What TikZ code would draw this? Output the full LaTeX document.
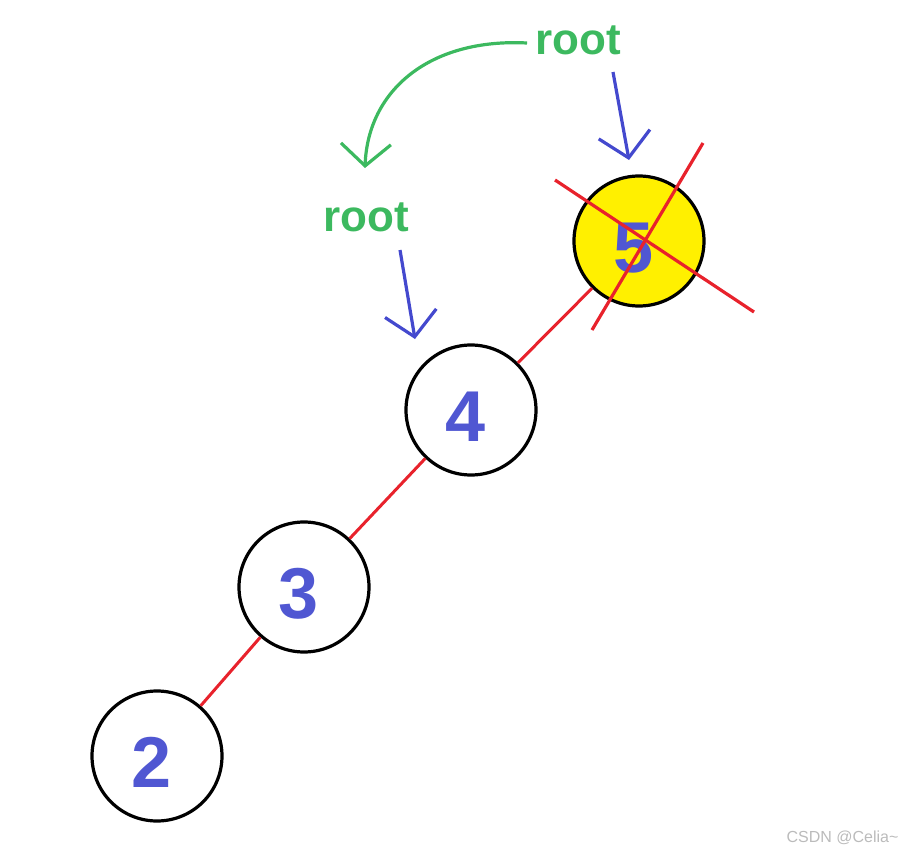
\documentclass[tikz,border=0pt]{standalone}
\usepackage{fontspec}
\setmainfont{Liberation Sans}
\usepackage{xcolor}
\usetikzlibrary{positioning, arrows.meta, calc}
\definecolor{nodeyellow}{HTML}{FFF000}
\definecolor{numblue}{HTML}{5057D2}
\definecolor{arrowblue}{HTML}{4449CE}
\definecolor{rootgreen}{HTML}{3CB95F}
\definecolor{edgered}{HTML}{E8222C}
\definecolor{markgray}{HTML}{BBBBBB}

\newcommand{\numtext}[1]{#1\kern10pt}

\tikzset{
  treenode/.style={circle, draw=black, line width=3.2pt, minimum size=130pt, inner sep=0pt,
    text=numblue, text height=62pt, text depth=0pt, font=\fontsize{72}{72}\selectfont\bfseries},
  treeedge/.style={draw=edgered, line width=3pt},
  crossline/.style={draw=edgered, line width=3.2pt},
  rootlabel/.style={text=rootgreen, font=\fontsize{44}{44}\selectfont\bfseries, inner sep=0pt},
  pointer/.style={draw=arrowblue, line width=3.2pt, -{Straight Barb[length=24pt, width=52pt, line width=3.2pt]}},
  moveptr/.style={draw=rootgreen, line width=3.2pt, -{Straight Barb[length=22pt, width=50pt, line width=3.2pt]}}
}

\begin{document}
\begin{tikzpicture}[x=1pt, y=-1pt]
  \useasboundingbox (0,0) rectangle (908,854);

  % tree
  \node[treenode, fill=nodeyellow] (n5) at (639,241) {\numtext{5}};
  \node[treenode] (n4) at (471,410) {\numtext{4}};
  \node[treenode] (n3) at (304,587) {\numtext{3}};
  \node[treenode] (n2) at (157,756) {\numtext{2}};

  \draw[treeedge] (n5) -- (n4);
  \draw[treeedge] (n4) -- (n3);
  \draw[treeedge] (n3) -- (n2);

  % crossing out node 5
  \coordinate (crossA1) at (555,180);
  \coordinate (crossA2) at (754,312);
  \coordinate (crossB1) at (703,143);
  \coordinate (crossB2) at (592,330);
  \draw[crossline] (crossA1) -- (crossA2);
  \draw[crossline] (crossB1) -- (crossB2);

  % root pointers
  \node[rootlabel] (rootold) at (578,40) {root};
  \node[rootlabel] (rootnew) at (366,217) {root};
  \coordinate (tipold) at (629,160);
  \coordinate (tipnew) at (415,339);
  \draw[pointer] (613,72) -- (tipold);
  \draw[pointer] (400,250) -- (tipnew);

  % moving root down
  \coordinate (movetip) at (365,168);
  \draw[moveptr] (rootold.west) ++(-8,3) .. controls (430,38) and (368,90) .. (movetip);

  \node[text=markgray, font=\fontsize{16}{16}\selectfont, anchor=east] (mark) at (902,838) {CSDN @Celia\textasciitilde};
\end{tikzpicture}
\end{document}
